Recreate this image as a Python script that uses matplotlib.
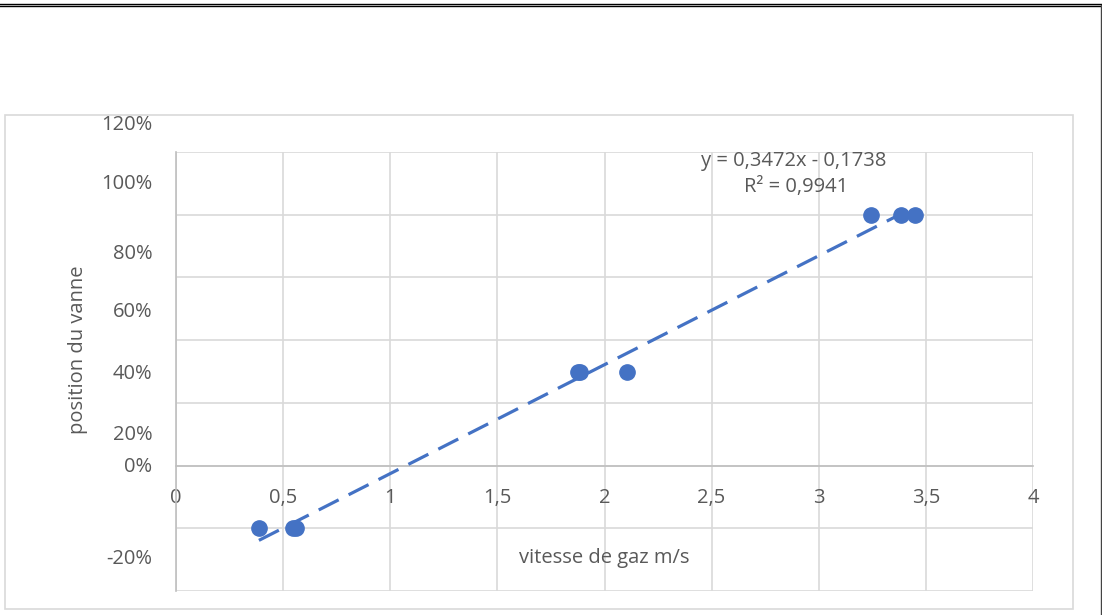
import numpy as np
import matplotlib.pyplot as plt
from matplotlib.patches import Rectangle
from matplotlib.lines import Line2D

# data
vitesse = [0.387, 0.546, 0.560, 1.876, 1.885, 2.105, 3.244, 3.384, 3.449]
position = [-0.20, -0.20, -0.20, 0.30, 0.30, 0.30, 0.80, 0.80, 0.80]

x_ticks = [0, 0.5, 1, 1.5, 2, 2.5, 3, 3.5, 4]
x_labels = ["0", "0,5", "1", "1,5", "2", "2,5", "3", "3,5", "4"]
grid_levels = [-0.4, -0.2, 0.0, 0.2, 0.4, 0.6, 0.8, 1.0]
y_labels = ["-20%", "0%", "20%", "40%", "60%", "80%", "100%", "120%"]
# where the (misplaced) Excel labels sit, in data units
y_label_pos = [-0.297, -0.003, 0.099, 0.291, 0.489, 0.674, 0.898, 1.086]

equation = "y = 0,3472x - 0,1738"
r2 = "R² = 0,9941"

BLUE = "#4472C4"
TXT = "#595959"
GRID = "#D9D9D9"

plt.rcParams["font.family"] = ["Open Sans", "DejaVu Sans"]

fig = plt.figure(figsize=(11.02, 6.15), dpi=100)
ax = fig.add_axes([176 / 1102, 24 / 615, 857 / 1102, 439 / 615])

# chart area border + page lines
fig.patches.append(Rectangle((5 / 1102, 6 / 615), 1068 / 1102, 494 / 615,
                             transform=fig.transFigure, fill=False,
                             edgecolor=GRID, lw=1.2))
fig.lines.append(Line2D([0, 1], [611 / 615, 611 / 615], transform=fig.transFigure,
                        color="black", lw=1.0))
fig.lines.append(Line2D([0, 1], [609.5 / 615, 609.5 / 615], transform=fig.transFigure,
                        color="black", lw=1.0))
fig.lines.append(Line2D([1101 / 1102, 1101 / 1102], [0, 610 / 615], transform=fig.transFigure,
                        color="#444444", lw=1.0))

# trendline (least squares on the points)
slope, icpt = np.polyfit(vitesse, position, 1)
xs = np.array([min(vitesse), max(vitesse)])
ax.plot(xs, slope * xs + icpt, color=BLUE, lw=2.3, dashes=(7, 3.5), zorder=3)
ax.plot(vitesse, position, "o", color=BLUE, ms=11, zorder=4)

ax.set_xticks(x_ticks)
ax.set_xticklabels(x_labels)
ax.grid(axis="x", color=GRID, lw=1.2)

ax.set_yticks(grid_levels)
ax.set_yticklabels([])
ax.grid(axis="y", color=GRID, lw=1.2)
ax.set_axisbelow(True)

ax.set_xlim(0, 4)
ax.set_ylim(-0.4, 1.0)

# y labels drawn as text: they don't sit on the gridlines
for lab, yp in zip(y_labels, y_label_pos):
    ax.annotate(lab, xy=(0, yp), xycoords=("axes fraction", "data"),
                xytext=(-17, 0), textcoords="offset points",
                ha="right", va="center", color=TXT, fontsize=14.5,
                annotation_clip=False)

ax.tick_params(axis="both", which="both", length=0, labelcolor=TXT, labelsize=14.5)
ax.tick_params(axis="x", pad=16)

for s in ["top", "right"]:
    ax.spines[s].set_visible(False)
ax.spines["bottom"].set_position(("data", 0))
ax.spines["bottom"].set_color("#BFBFBF")
ax.spines["bottom"].set_linewidth(1.2)
ax.spines["left"].set_color("#BFBFBF")
ax.spines["left"].set_linewidth(1.2)

ax.text(0.5, -0.294, "vitesse de gaz m/s", transform=ax.get_yaxis_transform(),
        ha="center", va="center", color=TXT, fontsize=14.5)
fig.text(78 / 1102, 1 - 350 / 615, "position du vanne", rotation=90,
         ha="center", va="center", color=TXT, fontsize=14.5)

ax.text(2.885, 0.971, equation, ha="center", va="center", color=TXT, fontsize=14.5)
ax.text(2.895, 0.888, r2, ha="center", va="center", color=TXT, fontsize=14.5)

fig.savefig("out.png", dpi=100)
